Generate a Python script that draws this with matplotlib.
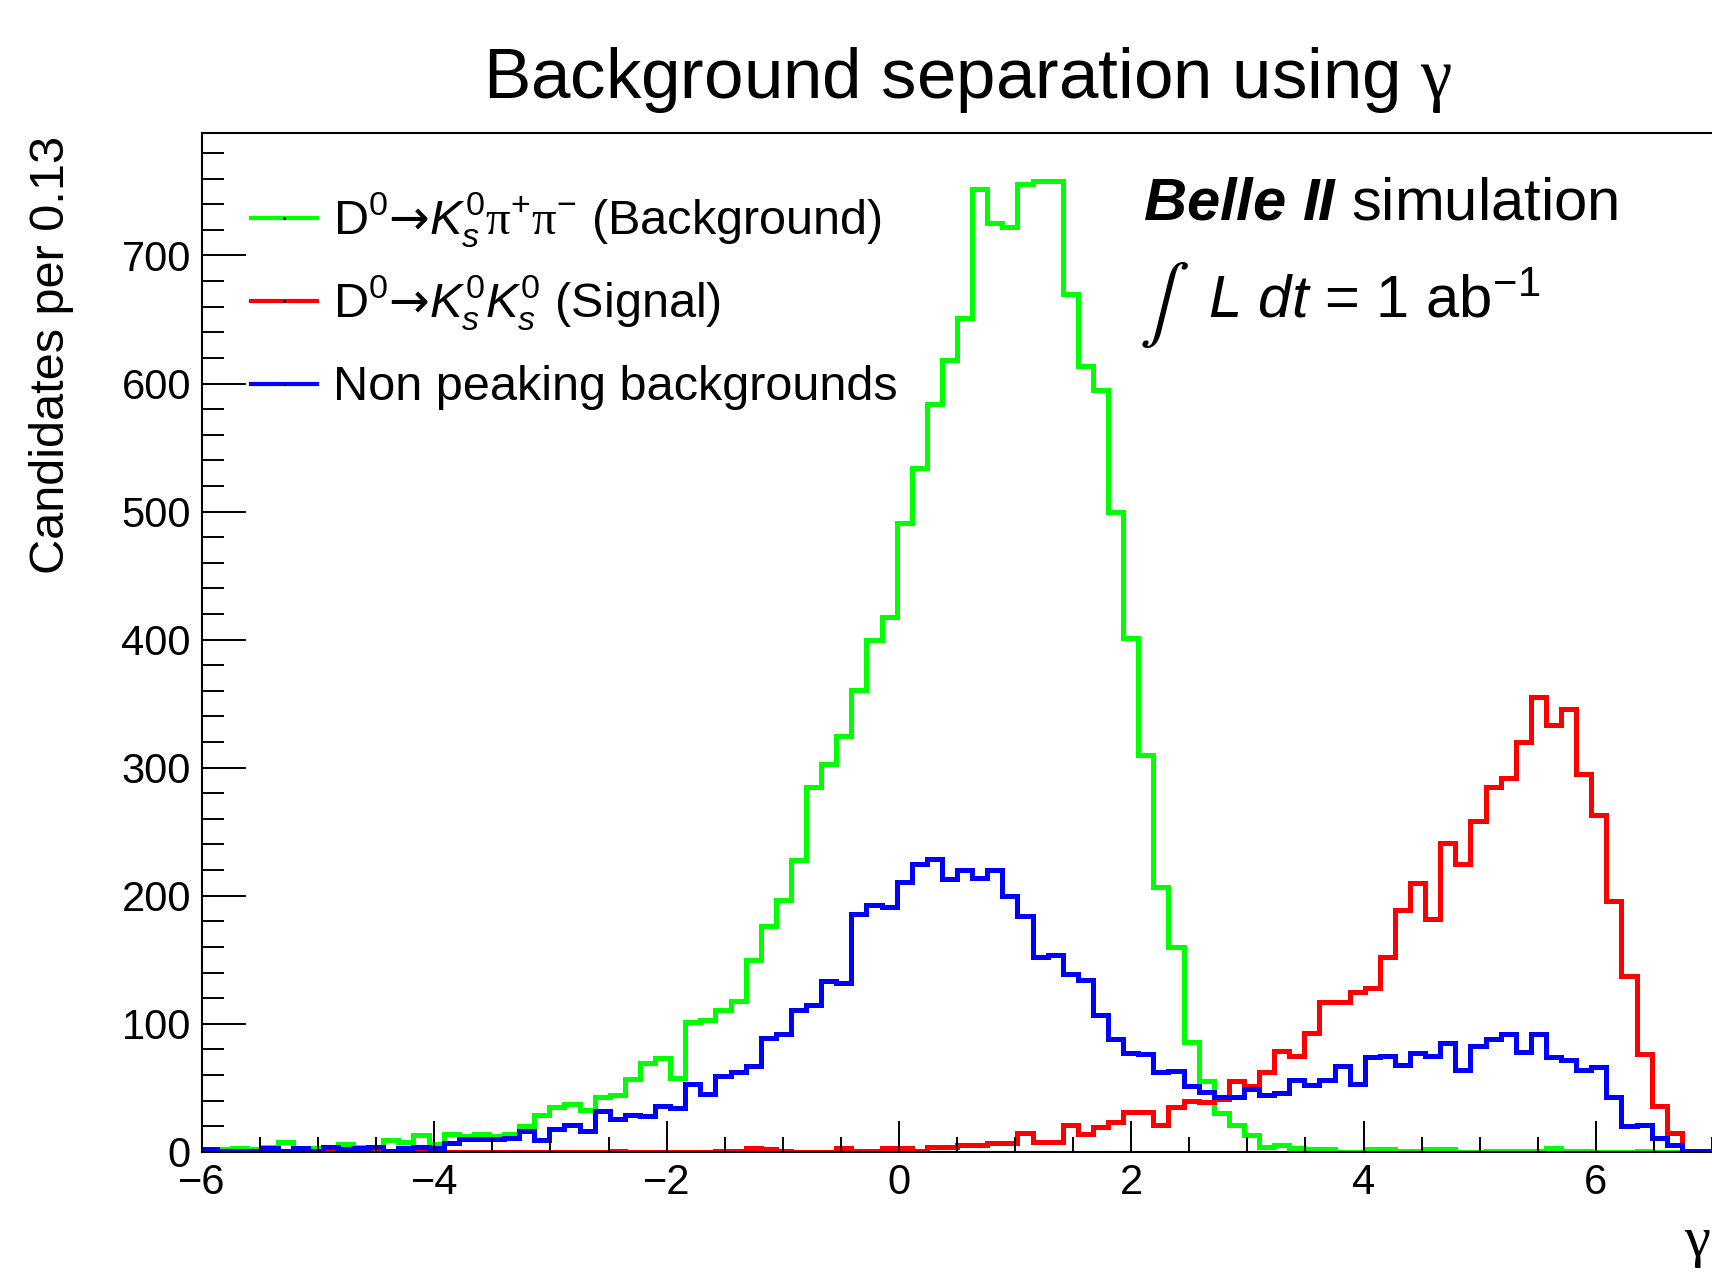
import numpy as np
import matplotlib
matplotlib.use("Agg")
import matplotlib.pyplot as plt
from matplotlib.ticker import MultipleLocator

# gamma histogram, 100 bins of 0.13 from -6 to 7
edges = np.linspace(-6, 7, 101)

# D0 -> Ks pi+ pi- (peaking background)
kspipi = [2, 2, 3, 2, 4, 8, 3, 3, 4, 6,
          4, 3, 9, 8, 13, 6, 14, 12, 14, 12,
          14, 20, 29, 35, 37, 33, 43, 44, 57, 69,
          73, 58, 101, 103, 111, 118, 150, 176, 197, 228,
          285, 303, 325, 361, 400, 418, 491, 534, 584, 618,
          651, 752, 725, 722, 756, 758, 758, 670, 614, 595,
          500, 401, 310, 207, 160, 86, 55, 30, 21, 13,
          4, 5, 3, 2, 2, 0, 0, 2, 2, 1,
          1, 2, 2, 0, 0, 1, 1, 1, 1, 3,
          1, 1, 0, 0, 0, 1, 0, 0, 0, 0]

# D0 -> Ks Ks (signal)
ksks = [0, 0, 0, 0, 1, 0, 0, 0, 1, 0,
        0, 1, 0, 0, 1, 1, 0, 0, 0, 0,
        0, 0, 0, 0, 0, 0, 0, 1, 0, 0,
        0, 0, 0, 0, 1, 1, 3, 2, 1, 0,
        0, 0, 3, 1, 1, 3, 3, 1, 4, 4,
        5, 5, 7, 7, 15, 8, 8, 21, 14, 19,
        23, 31, 31, 21, 35, 40, 39, 41, 55, 51,
        62, 79, 75, 93, 117, 117, 125, 128, 152, 189,
        210, 182, 241, 225, 258, 285, 292, 320, 355, 333,
        346, 295, 263, 196, 137, 76, 36, 15, 0, 0]

# non peaking backgrounds
nonpeak = [2, 1, 1, 1, 3, 1, 3, 1, 4, 2,
           3, 4, 1, 3, 4, 3, 7, 10, 10, 10,
           11, 16, 9, 18, 21, 16, 32, 26, 29, 28,
           36, 34, 53, 45, 59, 62, 67, 89, 92, 111,
           115, 133, 132, 186, 193, 191, 211, 225, 229, 213,
           220, 214, 220, 200, 184, 152, 154, 139, 134, 107,
           88, 77, 76, 62, 63, 51, 47, 43, 43, 49,
           44, 46, 56, 52, 56, 67, 53, 74, 75, 68,
           77, 75, 85, 64, 83, 88, 92, 78, 92, 74,
           72, 64, 66, 43, 20, 21, 11, 5, 1, 1]

labels = [r"D$^{0}\mathsf{→}K_{s}^{0}\mathtt{\pi}^{+}\mathtt{\pi}^{-}$ (Background)",
          r"D$^{0}\mathsf{→}K_{s}^{0}K_{s}^{0}$ (Signal)",
          "Non peaking backgrounds"]
colors = ["#00ff00", "#ff0000", "#0000ff"]

plt.rcParams['font.family'] = ['Liberation Sans', 'DejaVu Sans']
plt.rcParams['mathtext.fontset'] = 'custom'
plt.rcParams['mathtext.rm'] = 'Liberation Sans'
plt.rcParams['mathtext.it'] = 'Liberation Sans:italic'
plt.rcParams['mathtext.bf'] = 'Liberation Sans:bold:italic'
plt.rcParams['mathtext.sf'] = 'DejaVu Sans'
plt.rcParams['mathtext.tt'] = 'Liberation Serif'

W, H = 1712, 1279
def fx(px):
    return px / W
def fy(py):
    return 1 - py / H

fig = plt.figure(figsize=(W / 100, H / 100), dpi=100)
x0, x1, ytop, ybot = 202, 1712, 133.2, 1151.8
ax = fig.add_axes([fx(x0), fy(ybot), (x1 - x0) / W, (ybot - ytop) / H])

for vals, c in zip([kspipi, ksks, nonpeak], colors):
    ax.stairs(vals, edges, baseline=None, color=c, linewidth=3.6)

ax.set_xlim(-6, 7)
ax.set_ylim(0, 795.5)
ax.xaxis.set_major_locator(MultipleLocator(2))
ax.xaxis.set_minor_locator(MultipleLocator(0.5))
ax.yaxis.set_major_locator(MultipleLocator(100))
ax.yaxis.set_minor_locator(MultipleLocator(20))
ax.tick_params(axis='both', which='both', direction='in', width=1.4,
               labelsize=30, colors='black')
ax.tick_params(axis='x', which='major', length=22, pad=8)
ax.tick_params(axis='x', which='minor', length=11)
ax.tick_params(axis='y', which='major', length=32, pad=8)
ax.tick_params(axis='y', which='minor', length=16)
for s in ['left', 'bottom', 'top']:
    ax.spines[s].set_linewidth(1.5)
ax.spines['right'].set_visible(False)

# legend drawn by hand (ROOT style)
for i, (lab, c) in enumerate(zip(labels, colors)):
    yl = 217.7 + 83 * i
    ax.plot([fx(251), fx(317)], [fy(yl), fy(yl)], transform=fig.transFigure,
            color=c, linewidth=3, clip_on=False)
    ax.plot([fx(284)], [fy(yl)], transform=fig.transFigure, marker='s',
            markersize=1.2, color='black', clip_on=False)
    fig.text(fx(333), fy(yl + 16.5), lab, fontsize=35, va='baseline', ha='left')

fig.text(fx(968), fy(98), r"Background separation using $\mathtt{\gamma}$",
         fontsize=51, ha='center', va='baseline')
fig.text(fx(1143), fy(220), r"$\mathbf{Belle\ II}$ simulation",
         fontsize=43, ha='left', va='baseline')
fig.text(fx(1139), fy(324), r"$\int$", math_fontfamily='stix',
         fontsize=54, ha='left', va='baseline')
fig.text(fx(1208), fy(318), r"$L$ $dt$ = 1 ab$^{-1}$",
         fontsize=43, ha='left', va='baseline')

fig.text(fx(52), fy(136), "Candidates per 0.13", rotation=90,
         fontsize=35, ha='center', va='top')
fig.text(fx(1711), fy(1256), r"$\mathtt{\gamma}$", fontsize=42,
         ha='right', va='baseline')

fig.savefig("out.png", dpi=100)
